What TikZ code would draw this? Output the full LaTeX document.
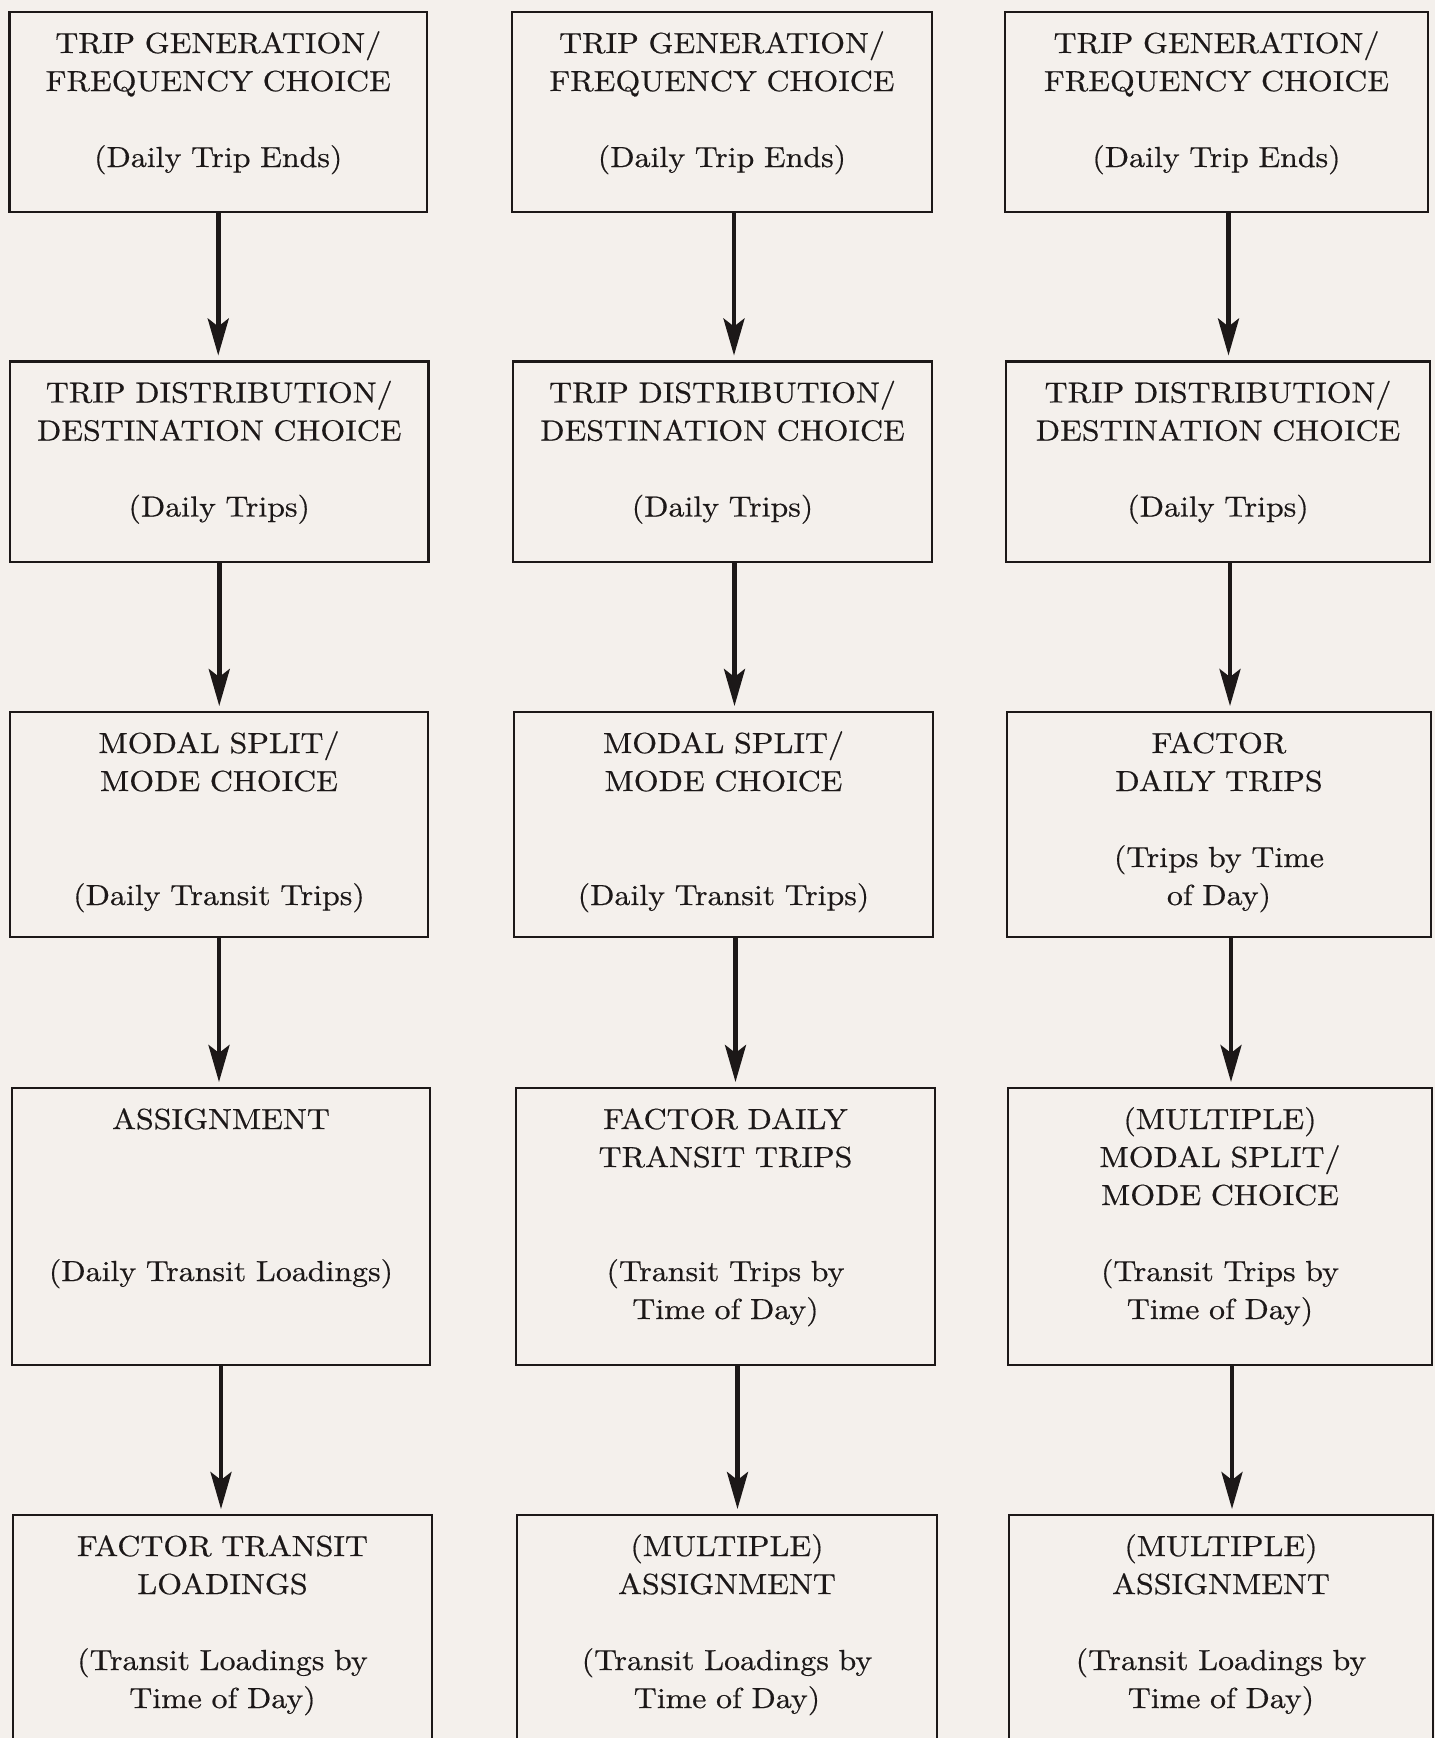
\documentclass[tikz,border=0pt]{standalone}
\usepackage{fontspec}
\setmainfont{lmroman10-regular.otf}[FakeStretch=1.1, FakeBold=0.5]
\usetikzlibrary{arrows.meta}
\definecolor{paper}{RGB}{244,240,236}
\definecolor{ink}{RGB}{28,24,24}
\begin{document}
\begin{tikzpicture}[x=1pt,y=-1pt,
  box/.style={draw=ink, line width=2.5pt, rectangle, inner sep=0pt, outer sep=0pt, anchor=north west},
  txt/.style={text width=400pt, align=center, inner sep=0pt, anchor=base, text=ink,
              font=\fontsize{29}{38}\selectfont},
  arr/.style={draw=ink, line width=4.5pt, -{Stealth[length=37pt,width=21pt,inset=8pt]}, shorten >=6pt}]
\clip (0,0) rectangle (1435,1738);
\fill[paper] (0,0) rectangle (1435,1738);
% row 1
\node[box, minimum width=417.5pt, minimum height=200pt] (b11) at (9.5,12) {};
\node[box, minimum width=420pt, minimum height=200pt] (b12) at (512,12) {};
\node[box, minimum width=423pt, minimum height=200pt] (b13) at (1005,12) {};
% row 2
\node[box, minimum width=418.5pt, minimum height=200.5pt] (b21) at (10,361.5) {};
\node[box, minimum width=419pt, minimum height=200.5pt] (b22) at (513,361.5) {};
\node[box, minimum width=424pt, minimum height=200.5pt] (b23) at (1006,361.5) {};
% row 3
\node[box, minimum width=418pt, minimum height=225pt] (b31) at (10,712) {};
\node[box, minimum width=419pt, minimum height=225pt] (b32) at (514,712) {};
\node[box, minimum width=424pt, minimum height=225pt] (b33) at (1007,712) {};
% row 4
\node[box, minimum width=418pt, minimum height=277pt] (b41) at (12,1088) {};
\node[box, minimum width=419pt, minimum height=277pt] (b42) at (516,1088) {};
\node[box, minimum width=424pt, minimum height=277pt] (b43) at (1008,1088) {};
% row 5
\node[box, minimum width=419pt, minimum height=260pt] (b51) at (13,1515) {};
\node[box, minimum width=420pt, minimum height=260pt] (b52) at (517,1515) {};
\node[box, minimum width=424pt, minimum height=260pt] (b53) at (1009,1515) {};
% texts
\node[txt] (t11) at ([yshift=-41pt]b11.north) {TRIP GENERATION/\\FREQUENCY CHOICE\\[38pt](Daily Trip Ends)};
\node[txt] (t12) at ([yshift=-41pt]b12.north) {TRIP GENERATION/\\FREQUENCY CHOICE\\[38pt](Daily Trip Ends)};
\node[txt] (t13) at ([yshift=-41pt]b13.north) {TRIP GENERATION/\\FREQUENCY CHOICE\\[38pt](Daily Trip Ends)};
\node[txt] (t21) at ([yshift=-41pt]b21.north) {TRIP DISTRIBUTION/\\DESTINATION CHOICE\\[38pt](Daily Trips)};
\node[txt] (t22) at ([yshift=-41pt]b22.north) {TRIP DISTRIBUTION/\\DESTINATION CHOICE\\[38pt](Daily Trips)};
\node[txt] (t23) at ([yshift=-41pt]b23.north) {TRIP DISTRIBUTION/\\DESTINATION CHOICE\\[38pt](Daily Trips)};
\node[txt] (t31) at ([yshift=-41pt]b31.north) {MODAL SPLIT/\\MODE CHOICE\\[76pt](Daily Transit Trips)};
\node[txt] (t32) at ([yshift=-41pt]b32.north) {MODAL SPLIT/\\MODE CHOICE\\[76pt](Daily Transit Trips)};
\node[txt] (t33) at ([yshift=-41pt]b33.north) {FACTOR\\DAILY TRIPS\\[38pt](Trips by Time\\of Day)};
\node[txt] (t41) at ([yshift=-41pt]b41.north) {ASSIGNMENT\\[114pt](Daily Transit Loadings)};
\node[txt] (t42) at ([yshift=-41pt]b42.north) {FACTOR DAILY\\TRANSIT TRIPS\\[76pt](Transit Trips by\\Time of Day)};
\node[txt] (t43) at ([yshift=-41pt]b43.north) {(MULTIPLE)\\MODAL SPLIT/\\MODE CHOICE\\[38pt](Transit Trips by\\Time of Day)};
\node[txt] (t51) at ([yshift=-41pt]b51.north) {FACTOR TRANSIT\\LOADINGS\\[38pt](Transit Loadings by\\Time of Day)};
\node[txt] (t52) at ([yshift=-41pt]b52.north) {(MULTIPLE)\\ASSIGNMENT\\[38pt](Transit Loadings by\\Time of Day)};
\node[txt] (t53) at ([yshift=-41pt]b53.north) {(MULTIPLE)\\ASSIGNMENT\\[38pt](Transit Loadings by\\Time of Day)};
% arrows
\foreach \r/\s in {1/2,2/3,3/4,4/5}{
  \draw[arr] (b\r1.south) -- (b\r1.south |- b\s1.north);
  \draw[arr] ([xshift=12pt]b\r2.south) -- ([xshift=12pt]b\r2.south |- b\s2.north);
  \draw[arr] ([xshift=12pt]b\r3.south) -- ([xshift=12pt]b\r3.south |- b\s3.north);
}
\end{tikzpicture}
\end{document}
